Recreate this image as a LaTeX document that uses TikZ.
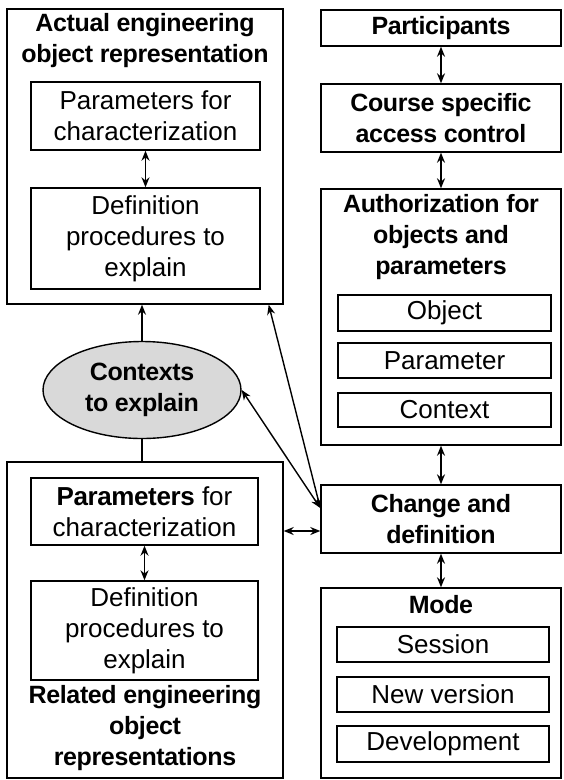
\documentclass[tikz,border=0pt]{standalone}
\usepackage{fontspec}
\setmainfont{Liberation Sans}
\newfontfamily\headfont[LetterSpace=-1.5]{Liberation Sans}
\usetikzlibrary{arrows.meta,shapes.geometric}

\tikzset{
  box/.style={draw,line width=1.4pt,inner sep=0pt,align=center,font=\fontsize{26}{31}\selectfont},
  hbox/.style={box,font=\headfont\bfseries\fontsize{25}{31}\selectfont},
  head/.style={align=center,inner sep=0pt,font=\headfont\bfseries\fontsize{25}{31}\selectfont},
  dbl/.style={{Stealth[length=10pt,width=8pt]}-{Stealth[length=10pt,width=8pt]},line width=1.4pt},
  one/.style={-{Stealth[length=10pt,width=8pt]},line width=1.4pt},
}

\begin{document}
\begin{tikzpicture}[x=1pt,y=-1pt]
\useasboundingbox (0,0) rectangle (563,780);
% left column, actual object
\node[box,minimum width=276pt,minimum height=295pt] (act) at (145,156.5) {};
\node[head] (actT) at (145,41) {Actual engineering\\object representation};
\node[box,minimum width=229pt,minimum height=68pt] (par1) at (145.5,116) {Parameters for\\characterization};
\node[box,minimum width=229pt,minimum height=101pt] (def1) at (145.5,238.5) {Definition\\procedures to\\explain};
% contexts
\node[ellipse,draw,fill=gray!30,line width=1.4pt,inner sep=0pt,minimum width=198pt,minimum height=97pt,head] (ctx) at (142,390) {Contexts\\to explain};
% left column, related objects
\node[box,minimum width=276pt,minimum height=316pt] (rel) at (145,620) {};
\node[box,minimum width=227pt,minimum height=67pt] (par2) at (144.5,511.5) {{\headfont\bfseries Parameters} for\\characterization};
\node[box,minimum width=227pt,minimum height=99pt] (def2) at (144.5,630.5) {Definition\\procedures to\\explain};
\node[head] (relT) at (145,728) {Related engineering\\object\\representations};
% right column
\node[hbox,minimum width=240pt,minimum height=36pt] (part) at (441,28) {Participants};
\node[hbox,minimum width=240pt,minimum height=68pt] (acc) at (441,118) {Course specific\\access control};
\node[box,minimum width=240pt,minimum height=256pt] (auth) at (441,317) {};
\node[head] (authT) at (441,237) {Authorization for\\objects and\\parameters};
\node[box,minimum width=213pt,minimum height=36pt] (obj) at (444.5,313) {Object};
\node[box,minimum width=213pt,minimum height=35pt] (prm) at (444.5,360.5) {Parameter};
\node[box,minimum width=213pt,minimum height=34pt] (cxt) at (444.5,410) {Context};
\node[hbox,minimum width=240pt,minimum height=68pt] (chg) at (441,519) {Change and\\definition};
\node[box,minimum width=240pt,minimum height=190pt] (mode) at (441,683) {};
\node[head] (modeT) at (441,605) {Mode};
\node[box,minimum width=212pt,minimum height=35pt] (ses) at (443,644.5) {Session};
\node[box,minimum width=212pt,minimum height=35pt] (nver) at (443,694.5) {New version};
\node[box,minimum width=212pt,minimum height=36pt] (dev) at (443,744) {Development};
% connectors
\draw[dbl] (par1) -- (def1);
\draw[dbl] (par2) -- (def2);
\draw[one] (ctx.north) -- (ctx.north |- act.south);
\draw[line width=1.4pt] (ctx.south) -- (ctx.south |- rel.north);
\draw[dbl] (part) -- (acc);
\draw[dbl] (acc) -- (auth);
\draw[dbl] (auth) -- (chg);
\draw[dbl] (chg) -- (mode);
\draw[dbl] ([xshift=-15pt]act.south east) -- ([yshift=11pt]chg.west);
\draw[dbl] (ctx.east) -- ([yshift=11pt]chg.west);
\draw[dbl] ([yshift=-12pt]chg.west) -- ([yshift=-12pt]chg.west -| rel.east);
\end{tikzpicture}
\end{document}
